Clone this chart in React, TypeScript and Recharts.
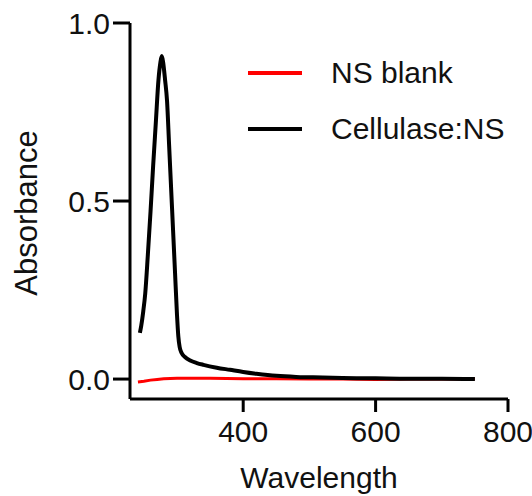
import React from 'react';
import { LineChart, Line, XAxis, YAxis, Legend, Label } from 'recharts';

const blankWavelengths = [241, 250, 260, 270, 280, 300, 350, 400, 450, 500, 550, 600, 650, 700, 750];
const blankValues = [-0.008, -0.006, -0.003, -0.001, 0.001, 0.002, 0.002, 0.001, 0.001, 0.0, 0.0, -0.001, 0.0, 0.0, 0.0];

const cellWavelengths = [244, 246, 249, 252, 256, 260, 264, 268, 272, 275, 277, 279, 282, 285, 288, 291, 294, 297, 300, 302, 304, 307, 312, 320, 330, 340, 360, 380, 400, 420, 450, 480, 500, 550, 600, 650, 700, 750];
const cellValues = [0.13, 0.15, 0.19, 0.24, 0.35, 0.47, 0.6, 0.72, 0.84, 0.89, 0.907, 0.89, 0.84, 0.78, 0.66, 0.54, 0.42, 0.3, 0.18, 0.12, 0.09, 0.073, 0.062, 0.052, 0.045, 0.04, 0.032, 0.026, 0.02, 0.015, 0.009, 0.006, 0.005, 0.003, 0.002, 0.001, 0.001, 0.0];

const xTicks = [400, 600, 800];
const yTicks = [0, 0.5, 1.0];

const seriesNames = ['NS blank', 'Cellulase:NS'];
const seriesColors = ['#ff0000', '#000000'];

const blankData = blankWavelengths.map((w, i) => ({ w, v: blankValues[i] }));
const cellData = cellWavelengths.map((w, i) => ({ w, v: cellValues[i] }));

const FONT = 'Liberation Sans, Arial, sans-serif';

const renderLegend = () => (
  <div style={{ fontFamily: FONT }}>
    {seriesNames.map((name, i) => (
      <div key={name} style={{ display: 'flex', alignItems: 'center', height: 56 }}>
        <svg width={54} height={6} style={{ marginRight: 29 }}>
          <line x1={0} y1={3} x2={54} y2={3} stroke={seriesColors[i]} strokeWidth={4} />
        </svg>
        <span style={{ fontSize: 30, color: '#111' }}>{name}</span>
      </div>
    ))}
  </div>
);

export default function App() {
  return (
    <div style={{ position: 'absolute', left: 0, top: 0, background: '#fff' }}>
      <LineChart
        width={532}
        height={496}
        margin={{ top: 23, right: 24, left: 0, bottom: 0 }}
      >
        <XAxis
          type="number"
          dataKey="w"
          domain={[229, 800]}
          ticks={xTicks}
          allowDataOverflow
          height={97}
          stroke="#000"
          strokeWidth={3}
          tickSize={13}
          tickMargin={9}
          tick={{ fill: '#111', fontSize: 30, fontFamily: FONT }}
          tickLine={{ stroke: '#000', strokeWidth: 3 }}
        >
          <Label
            value="Wavelength"
            position="insideBottom"
            offset={8}
            style={{ fill: '#111', fontSize: 30, fontFamily: FONT }}
          />
        </XAxis>
        <YAxis
          type="number"
          domain={[-0.056, 1.0]}
          ticks={yTicks}
          allowDataOverflow
          width={130}
          stroke="#000"
          strokeWidth={3}
          tickSize={17}
          tickMargin={3}
          tickFormatter={(v: number) => v.toFixed(1)}
          tick={{ fill: '#111', fontSize: 30, fontFamily: FONT }}
          tickLine={{ stroke: '#000', strokeWidth: 3 }}
        >
          <Label
            content={(props: any) => {
              const vb = props.viewBox || { x: 0, y: 23, width: 130, height: 376 };
              const cx = vb.x + 37;
              const cy = vb.y + vb.height / 2 + 2;
              return (
                <text
                  x={cx}
                  y={cy}
                  transform={`rotate(-90, ${cx}, ${cy})`}
                  textAnchor="middle"
                  fill="#111"
                  fontSize={31}
                  fontFamily={FONT}
                >
                  Absorbance
                </text>
              );
            }}
          />
        </YAxis>
        <Legend
          content={renderLegend}
          layout="vertical"
          verticalAlign="middle"
          align="center"
          wrapperStyle={{ position: 'absolute', left: 248, top: 45, width: 280 }}
        />
        <Line
          data={blankData}
          dataKey="v"
          name={seriesNames[0]}
          stroke={seriesColors[0]}
          strokeWidth={3}
          dot={false}
          type="linear"
          isAnimationActive={false}
        />
        <Line
          data={cellData}
          dataKey="v"
          name={seriesNames[1]}
          stroke={seriesColors[1]}
          strokeWidth={4}
          dot={false}
          type="monotone"
          isAnimationActive={false}
        />
      </LineChart>
    </div>
  );
}
